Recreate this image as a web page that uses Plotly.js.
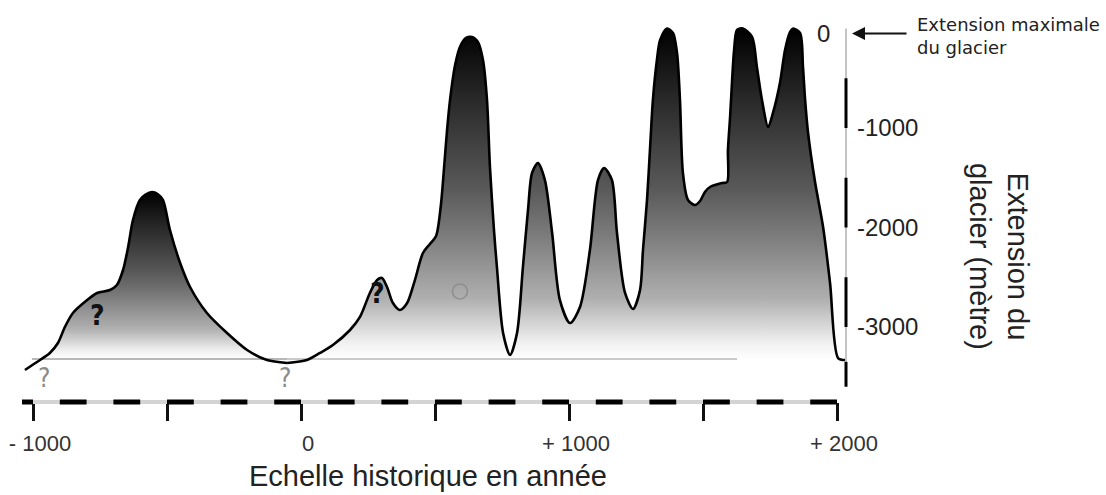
<!DOCTYPE html>
<html><head><meta charset="utf-8">
<script src="https://cdn.plot.ly/plotly-3.0.1.min.js"></script>
<style>html,body{margin:0;padding:0;background:#fff;}#chart{width:1106px;height:495px;}</style>
</head><body><div id="chart"></div>
<script>
// Glacier extension (m, 0 = maximal extension) vs historical year
const leftYears  = [-1030,-985,-937,-907,-881,-851,-798,-761,-713,-687,-664,-645,-627,-601,-580,-556,-535,-515,-489,-451,-414,-351,-276,-201,-127,-52];
const leftExtent = [-3432,-3352,-3261,-3161,-3000,-2859,-2729,-2658,-2628,-2578,-2427,-2196,-1925,-1724,-1670,-1643,-1663,-1724,-2025,-2357,-2598,-2859,-3060,-3231,-3332,-3362];

const rightYears  = [-52,22,71,119,183,220,257,284,302,321,343,369,396,425,455,481,504,522,534,545,556,575,593,616,638,660,679,694,705,720,731,754,780,806,828,847,862,884,910,937,966,1004,1041,1078,1108,1131,1160,1179,1209,1239,1265,1276,1291,1302,1313,1328,1340,1366,1388,1403,1414,1425,1444,1470,1489,1507,1526,1571,1590,1593,1601,1608,1616,1627,1649,1683,1701,1720,1743,1761,1787,1806,1825,1836,1862,1873,1881,1892,1918,1948,1974,2004,2030];
const rightExtent = [-3362,-3332,-3261,-3181,-3030,-2899,-2658,-2528,-2508,-2598,-2759,-2829,-2759,-2528,-2256,-2166,-2085,-1774,-1392,-1020,-719,-367,-186,-95,-85,-136,-317,-719,-1392,-2025,-2397,-3060,-3281,-3060,-2397,-1824,-1452,-1352,-1523,-2055,-2729,-2960,-2799,-2226,-1523,-1402,-1523,-2055,-2658,-2819,-2628,-2226,-1724,-1221,-719,-317,-116,0,-45,-246,-719,-1452,-1724,-1774,-1734,-1643,-1593,-1553,-1543,-1221,-889,-548,-216,-15,0,-85,-387,-719,-990,-849,-548,-216,-35,0,-45,-387,-719,-1050,-1543,-1995,-2558,-3312,-3332];

const baselineExtent = -3322;
const baselineLeftYears  = [-1004, -52];
const baselineRightYears = [-52, 1627];

const xTickVals = [-1000, -500, 0, 500, 1000, 1500, 2000];
const xTickText = ['- 1000', '', '0', '', '+ 1000', '', '+ 2000'];
const yTickVals = [-1000, -2000, -3000];
const yTickText = ['-1000', '-2000', '-3000'];

// uncertain points marked with "?" in the figure
const boldQYears = [-761, 287];
const boldQExtent = [-2889, -2668];
const greyQYears = [-959, -60];
const greyQExtent = [-3512, -3512];
const circleYear = [593];
const circleExtent = [-2643];

const FONT = 'Liberation Sans, Arial, sans-serif';
const grad = [[0,'#ffffff'],[0.05,'#f0f0f0'],[0.18,'#b0b0b0'],[0.38,'#7a7a7a'],[0.52,'#585858'],[0.78,'#2a2a2a'],[1,'#000000']];

const traces = [
  {x: baselineLeftYears, y: baselineLeftYears.map(() => baselineExtent), mode: 'lines',
   line: {color: '#b8b8b8', width: 2}, hoverinfo: 'skip', showlegend: false},
  {x: leftYears, y: leftExtent, mode: 'lines', fill: 'tonexty',
   line: {color: '#000', width: 2.6, shape: 'spline', smoothing: 0.8},
   fillgradient: {type: 'vertical', colorscale: grad, start: baselineExtent, stop: Math.max(...leftExtent)},
   hoverinfo: 'skip', showlegend: false},
  {x: baselineRightYears, y: baselineRightYears.map(() => baselineExtent), mode: 'lines',
   line: {color: '#b8b8b8', width: 1.6}, hoverinfo: 'skip', showlegend: false},
  {x: rightYears, y: rightExtent, mode: 'lines', fill: 'tonexty',
   line: {color: '#000', width: 2.6, shape: 'spline', smoothing: 0.8},
   fillgradient: {type: 'vertical', colorscale: grad, start: baselineExtent, stop: Math.max(...rightExtent)},
   hoverinfo: 'skip', showlegend: false},
  {x: circleYear, y: circleExtent, mode: 'markers',
   marker: {symbol: 'circle-open', size: 15, color: '#8f8f8f', line: {width: 1.6}},
   hoverinfo: 'skip', showlegend: false}
];

// dashed x-axis (black/grey alternating every 100 years)
const shapes = [];
const xStart = -1041, xEnd = 2000;
shapes.push({type: 'line', xref: 'x', yref: 'paper', x0: xStart, x1: xEnd, y0: 0, y1: 0,
             line: {color: '#d4d4d4', width: 4}, layer: 'above'});
shapes.push({type: 'line', xref: 'x', yref: 'paper', x0: xStart, x1: -1000, y0: 0, y1: 0,
             line: {color: '#000', width: 5}, layer: 'above'});
for (let t = -800; t <= xEnd; t += 200) {
  shapes.push({type: 'line', xref: 'x', yref: 'paper', x0: t - 100, x1: t, y0: 0, y1: 0,
               line: {color: '#000', width: 5}, layer: 'above'});
}
// dashed y-axis
shapes.push({type: 'line', xref: 'paper', yref: 'y', x0: 1, x1: 1, y0: 0, y1: -3600,
             line: {color: '#c4c4c4', width: 2}, layer: 'above'});
[[-500,-1000],[-1500,-2000],[-2500,-3000],[-3350,-3600]].forEach(s => {
  shapes.push({type: 'line', xref: 'paper', yref: 'y', x0: 1, x1: 1, y0: s[0], y1: s[1],
               line: {color: '#000', width: 3}, layer: 'above'});
});

const annotations = [
  {xref: 'x', yref: 'y', x: 1950, y: -50, text: '0', showarrow: false,
   font: {family: FONT, size: 24, color: '#222'}, xanchor: 'center', yanchor: 'middle'},
  {xref: 'paper', yref: 'y', x: 1.0072, y: -50, text: '', showarrow: true, ax: 56, ay: 0,
   arrowhead: 2, arrowsize: 1.3, arrowwidth: 2, arrowcolor: '#111', standoff: 0},
  {xref: 'paper', yref: 'paper', x: 1.0825, y: 0.934, text: 'Extension maximale<br>du glacier',
   showarrow: false, align: 'left', xanchor: 'left', yanchor: 'middle',
   font: {family: 'DejaVu Sans, sans-serif', size: 18, color: '#222'}},
  {xref: 'paper', yref: 'paper', x: 1.183, y: 0.370, text: 'Extension du<br>glacier (mètre)',
   showarrow: false, textangle: 90, align: 'center', xanchor: 'center', yanchor: 'middle',
   font: {family: FONT, size: 29, color: '#222'}},
  {xref: 'paper', yref: 'paper', x: 0.5, y: -0.188, text: 'Echelle historique en année',
   showarrow: false, xanchor: 'center', yanchor: 'middle',
   font: {family: FONT, size: 29, color: '#222'}}
];
boldQYears.forEach((yr, i) => annotations.push({xref: 'x', yref: 'y', x: yr, y: boldQExtent[i], text: '?',
  showarrow: false, font: {family: 'Liberation Sans Narrow, DejaVu Sans Condensed, sans-serif', size: 28, color: '#111', weight: 'bold'}}));
greyQYears.forEach((yr, i) => annotations.push({xref: 'x', yref: 'y', x: yr, y: greyQExtent[i], text: '?',
  showarrow: false, font: {family: 'Liberation Sans Narrow, DejaVu Sans Condensed, sans-serif', size: 26, color: '#8a8a8a'}}));

const layout = {
  width: 1106, height: 495,
  margin: {l: 10, r: 260, t: 10, b: 93, pad: 0},
  paper_bgcolor: '#fff', plot_bgcolor: '#fff',
  showlegend: false,
  xaxis: {range: [-1085.8, 2033.5], tickvals: xTickVals, ticktext: xTickText,
          ticks: 'outside', ticklen: 18, tickwidth: 3, tickcolor: '#111',
          showline: false, showgrid: false, zeroline: false, fixedrange: true,
          ticklabelshift: 7, ticklabelstandoff: 4,
          tickfont: {family: FONT, size: 22, color: '#333'}},
  yaxis: {range: [-3753.7, 185.9], side: 'right', tickvals: yTickVals, ticktext: yTickText,
          ticks: '', showline: false, showgrid: false, zeroline: false, fixedrange: true,
          ticklabelstandoff: 10,
          tickfont: {family: FONT, size: 24, color: '#222'}},
  shapes: shapes,
  annotations: annotations
};

Plotly.newPlot('chart', traces, layout, {displayModeBar: false, staticPlot: true});
</script></body></html>
